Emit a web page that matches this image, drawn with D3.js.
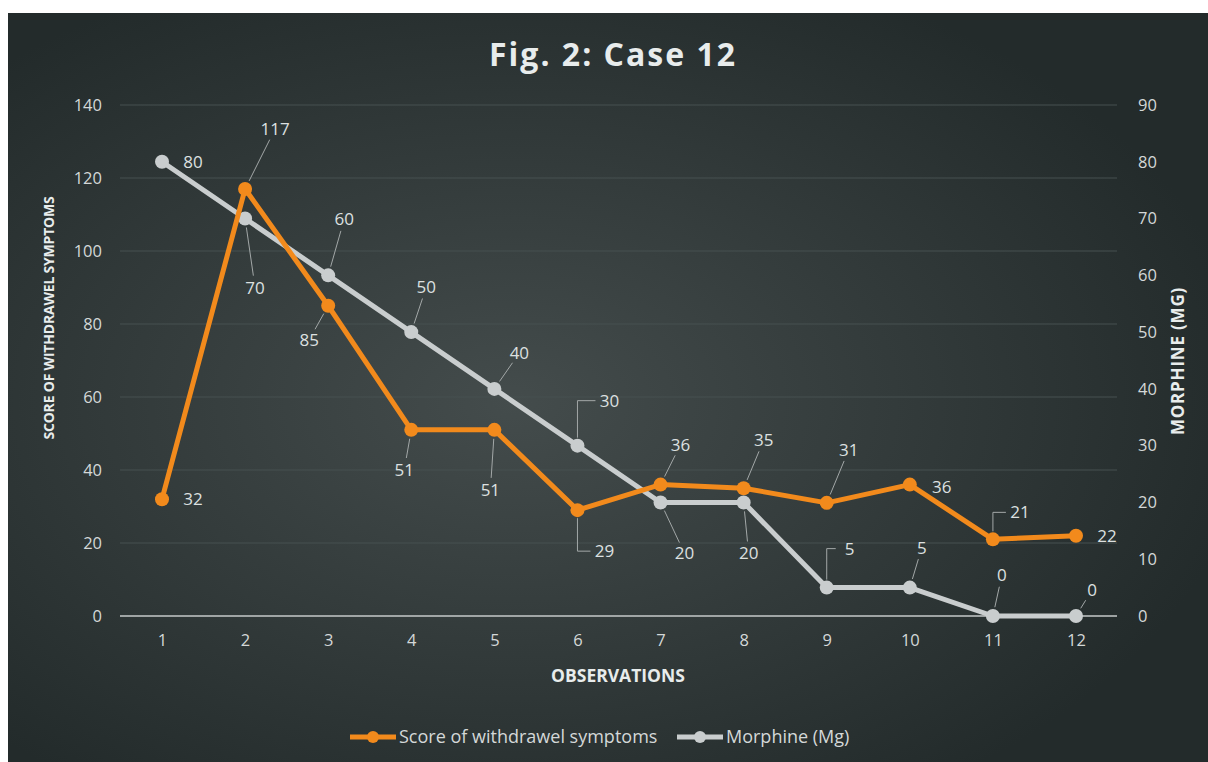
<!DOCTYPE html>
<meta charset="utf-8">
<head>
  <style>
    body { margin: 0; background: #fff; }
    svg { display: block; }
    .tick text { font-family: "Open Sans", sans-serif; font-size: 16.5px; fill: #d4d8d8; }
    .lbl { font-family: "Open Sans", sans-serif; font-size: 17px; fill: #dde0e0; }
    .ttl { font-family: "Open Sans", sans-serif; font-weight: bold; fill: #e8ecec; }
    .leg { font-family: "Open Sans", sans-serif; font-size: 18px; fill: #d4d8d8; }
  </style>
  <script src="https://cdn.jsdelivr.net/npm/d3@7"></script>
</head>
<body>
  <svg width="1208" height="762"></svg>
  <script>

    var observations = [1,2,3,4,5,6,7,8,9,10,11,12]
    var score = [32,117,85,51,51,29,36,35,31,36,21,22]
    var morphine = [80,70,60,50,40,30,20,20,5,5,0,0]
    var leftTicks = [0,20,40,60,80,100,120,140]
    var rightTicks = [0,10,20,30,40,50,60,70,80,90]

    // label offsets from the point: [dx, dy, leader type]
    var scoreLbl = [[31,0,""],[30,-60,"l"],[-19,34,"l"],[-7,40,"l"],[-4,60,"l"],[27,41,"e"],
                    [20,-40,"l"],[20,-48,"l"],[22,-53,"l"],[32,2,""],[27,-27,"e"],[31,0,""]]
    var morphLbl = [[31,0,""],[10,69,"l"],[16,-56,"l"],[15,-45,"l"],[25,-36,"l"],[32,-45,"e"],
                    [24,51,"l"],[5,51,"l"],[23,-39,"e"],[12,-40,"l"],[9,-41,"l"],[16,-26,"l"]]

    var orange = "#f28a1c", grey = "#c9cdce"

    var svg = d3.select("svg")

    var defs = svg.append("defs")
    var grad = defs.append("radialGradient").attr("id", "bg")
      .attr("cx", "42%").attr("cy", "52%").attr("r", "62%")
    grad.append("stop").attr("offset", "0%").attr("stop-color", "#444c4c")
    grad.append("stop").attr("offset", "100%").attr("stop-color", "#232b2b")

    svg.append("rect").attr("x", 8).attr("y", 13).attr("width", 1200).attr("height", 749)
      .attr("fill", "url(#bg)")

    var x = d3.scalePoint().domain(observations).range([162, 1076])
    var yL = d3.scaleLinear().domain([0, 140]).range([616, 105])
    var yR = d3.scaleLinear().domain([0, 90]).range([616, 105])

    // gridlines
    svg.append("g").selectAll("line").data(leftTicks.slice(1)).enter().append("line")
      .attr("x1", 120).attr("x2", 1117)
      .attr("y1", function(d) { return yL(d) }).attr("y2", function(d) { return yL(d) })
      .attr("stroke", "#465050").attr("stroke-width", 1)

    // baseline
    svg.append("line").attr("x1", 120).attr("x2", 1117).attr("y1", yL(0)).attr("y2", yL(0))
      .attr("stroke", "#c6caca").attr("stroke-width", 1.5)

    var axL = svg.append("g").attr("transform", "translate(120,0)")
      .call(d3.axisLeft(yL).tickValues(leftTicks).tickSize(0).tickPadding(18))
    var axR = svg.append("g").attr("transform", "translate(1117,0)")
      .call(d3.axisRight(yR).tickValues(rightTicks).tickSize(0).tickPadding(21))
    var axB = svg.append("g").attr("transform", "translate(0,616)")
      .call(d3.axisBottom(x).tickSize(0).tickPadding(18))
    ;[axL, axR, axB].forEach(function(a) { a.select(".domain").remove() })

    // titles
    svg.append("text").attr("class", "ttl").attr("x", 613).attr("y", 66)
      .attr("text-anchor", "middle").style("font-size", "32px").style("letter-spacing", "2px")
      .text("Fig. 2: Case 12")
    svg.append("text").attr("class", "ttl").attr("transform", "translate(54,318) rotate(-90)")
      .attr("text-anchor", "middle").style("font-size", "14px").style("letter-spacing", "-0.2px")
      .text("SCORE OF WITHDRAWEL SYMPTOMS")
    svg.append("text").attr("class", "ttl").attr("transform", "translate(1184,361) rotate(-90)")
      .attr("text-anchor", "middle").style("font-size", "17px").style("letter-spacing", "0.8px")
      .text("MORPHINE (MG)")
    svg.append("text").attr("class", "ttl").attr("x", 618).attr("y", 682)
      .attr("text-anchor", "middle").style("font-size", "17.5px").style("letter-spacing", "0px")
      .text("OBSERVATIONS")

    function drawSeries(vals, y, color) {
      var pts = vals.map(function(v, i) { return [x(observations[i]), y(v)] })
      var g = svg.append("g")
      g.append("path").datum(pts).attr("d", d3.line())
        .attr("fill", "none").attr("stroke", color).attr("stroke-width", 5)
        .attr("stroke-linejoin", "round")
      g.selectAll("circle").data(pts).enter().append("circle")
        .attr("cx", function(d) { return d[0] }).attr("cy", function(d) { return d[1] })
        .attr("r", 7).attr("fill", color)
      return pts
    }

    function drawLabels(vals, pts, offs) {
      var g = svg.append("g")
      pts.forEach(function(p, i) {
        var o = offs[i], lx = p[0] + o[0], ly = p[1] + o[1]
        if (o[2] == "l") {
          var dx = o[0], dy = o[1], len = Math.sqrt(dx*dx + dy*dy)
          var s = 9 / len, e = (len - 12) / len
          g.append("line")
            .attr("x1", p[0] + dx*s).attr("y1", p[1] + dy*s)
            .attr("x2", p[0] + dx*e).attr("y2", p[1] + dy*e)
            .attr("stroke", "#a3a8a8").attr("stroke-width", 1)
        } else if (o[2] == "e") {
          var sy = o[1] > 0 ? 8 : -8
          g.append("path")
            .attr("d", "M" + p[0] + "," + (p[1] + sy) + "V" + ly + "H" + (lx - 14))
            .attr("fill", "none").attr("stroke", "#a3a8a8").attr("stroke-width", 1)
        }
        g.append("text").attr("class", "lbl").attr("x", lx).attr("y", ly)
          .attr("text-anchor", "middle").attr("dy", "0.35em").text(vals[i])
      })
    }

    var mPts = drawSeries(morphine, yR, grey)
    var sPts = drawSeries(score, yL, orange)
    drawLabels(score, sPts, scoreLbl)
    drawLabels(morphine, mPts, morphLbl)

    // legend
    var legend = [["Score of withdrawel symptoms", orange, 350], ["Morphine (Mg)", grey, 677]]
    var lg = svg.append("g").selectAll("g").data(legend).enter().append("g")
      .attr("transform", function(d) { return "translate(" + d[2] + ",737)" })
    lg.append("line").attr("x1", 0).attr("x2", 46).attr("stroke", function(d) { return d[1] })
      .attr("stroke-width", 5)
    lg.append("circle").attr("cx", 23).attr("r", 6).attr("fill", function(d) { return d[1] })
    lg.append("text").attr("class", "leg").attr("x", 49).attr("dy", "0.35em")
      .text(function(d) { return d[0] })

  </script>
</body>
